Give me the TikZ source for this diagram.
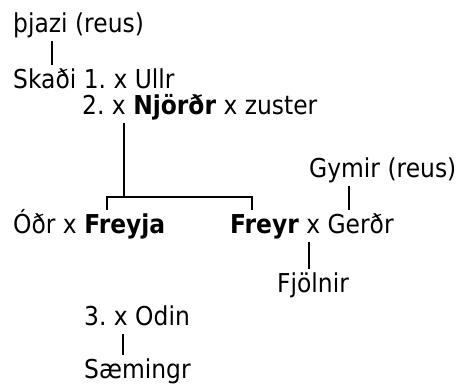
\documentclass[tikz,border=0pt]{standalone}
\usepackage{fontspec}
\setmainfont{DejaVu Sans}[FakeStretch=0.9]
\frenchspacing
\usetikzlibrary{positioning}
\tikzset{person/.style = {anchor=base west, inner xsep=0pt, inner ysep=3pt,
                          text height=20pt, text depth=6pt,
                          font=\fontsize{26}{31}\selectfont}}
\tikzset{bar/.style = {line width=1.8pt}}

\begin{document}
\begin{tikzpicture}[x=1pt,y=-1pt]
	\useasboundingbox (0,0) rectangle (463,391);
	\node[person] (thjazi) at (13,32) {þjazi (reus)};
	\node[person] (skadi) at (13,88) {Skaði 1. x Ullr};
	\node[person] (njord) at (82,114) {2. x \textbf{Njörðr} x zuster};
	\node[person] (gymir) at (309,177) {Gymir (reus)};
	\node[person] (freyja) at (13,233) {Óðr x \textbf{Freyja}};
	\node[person] (freyr) at (230,233) {\textbf{Freyr} x Gerðr};
	\node[person] (fjolnir) at (277,292) {Fjölnir};
	\node[person] (odin) at (84,325) {3. x Odin};
	\node[person] (saemingr) at (84,378) {Sæmingr};
	% lines of descent
	\draw[bar] ([xshift=39pt]thjazi.south west) -- ([xshift=39pt]skadi.north west);
	\draw[bar] ([xshift=94pt]freyja.north west) -- ++(0,-13) coordinate (fork) -| ([xshift=22pt]freyr.north west);
	\draw[bar] ([xshift=42pt]njord.south west) |- (fork);
	\draw[bar] ([xshift=40pt]gymir.south west) -- ([xshift=119pt]freyr.north west);
	\draw[bar] ([xshift=79pt]freyr.south west) -- ([xshift=32pt]fjolnir.north west);
	\draw[bar] ([xshift=39pt]odin.south west) -- ([xshift=39pt]saemingr.north west);
\end{tikzpicture}
\end{document}
